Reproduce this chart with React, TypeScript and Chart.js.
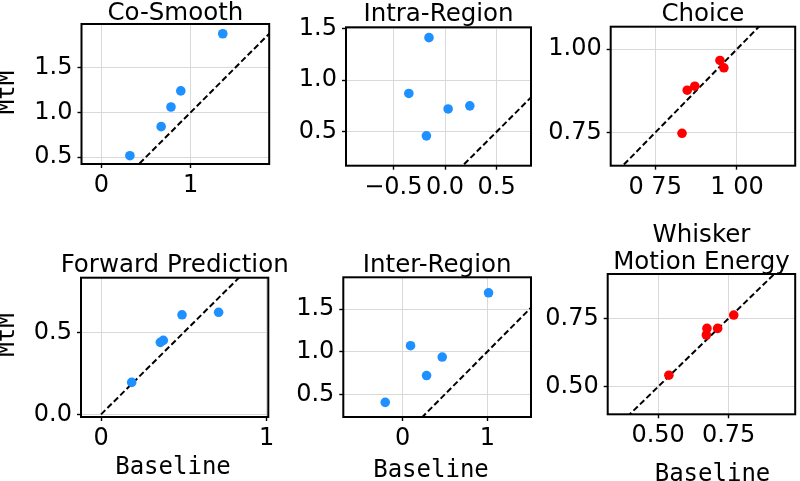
import { useEffect, useRef } from "react";
import { Chart, registerables } from "chart.js";

Chart.register(...registerables);

// ---------------- data ----------------
const coSmoothBaseline = [0.32, 0.67, 0.78, 0.89, 1.36];
const coSmoothMtM = [0.515, 0.84, 1.06, 1.24, 1.88];

const intraBaseline = [-0.155, -0.35, 0.03, 0.24, -0.18];
const intraMtM = [1.41, 0.87, 0.72, 0.75, 0.46];

const choiceBaseline = [0.948, 0.96, 0.871, 0.848, 0.832];
const choiceMtM = [0.966, 0.944, 0.889, 0.877, 0.748];

const forwardBaseline = [0.489, 0.71, 0.376, 0.358, 0.185];
const forwardMtM = [0.607, 0.622, 0.451, 0.439, 0.195];

const interBaseline = [1.015, 0.094, 0.468, 0.283, -0.205];
const interMtM = [1.69, 1.07, 0.937, 0.72, 0.406];

const whiskerBaseline = [0.768, 0.711, 0.673, 0.671, 0.538];
const whiskerMtM = [0.762, 0.713, 0.713, 0.689, 0.542];

// identity (y = x) reference line end points
const identityLine = [0, 2];

// tick values / labels
const ticks01 = [0, 1];
const ticks01Labels = ["0", "1"];
const ticksHalfStep = [0.5, 1.0, 1.5];
const ticksHalfStepLabels = ["0.5", "1.0", "1.5"];
const intraXTicks = [-0.5, 0.0, 0.5];
const intraXTickLabels = ["\u22120.5", "0.0", "0.5"];
const choiceXTicks = [0.75, 1.0];
const choiceXTickLabels = ["0 75", "1 00"];
const choiceYTicks = [0.75, 1.0];
const choiceYTickLabels = ["0.75", "1.00"];
const forwardYTicks = [0.0, 0.5];
const forwardYTickLabels = ["0.0", "0.5"];
const whiskerTicks = [0.5, 0.75];
const whiskerTickLabels = ["0.50", "0.75"];

const BLUE = "#1e90ff";
const RED = "#ff0000";

type Panel = {
  title: string[];
  titleBaselines: number[];
  box: [number, number, number, number]; // chart area l,t,r,b (page px)
  canvas: [number, number, number, number]; // canvas x0,y0,x1,y1 (page px)
  xRange: [number, number];
  yRange: [number, number];
  xTicks: number[];
  xTickLabels: string[];
  yTicks: number[];
  yTickLabels: string[];
  xs: number[];
  ys: number[];
  color: string;
  yLabel?: { text: string; x: number; y: number };
  xLabel?: { text: string; x: number; y: number };
};

const panels: Panel[] = [
  {
    title: ["Co-Smooth"],
    titleBaselines: [19.5],
    box: [81.5, 24, 269.2, 164],
    canvas: [-8, 0, 300, 200],
    xRange: [-0.222, 1.88],
    yRange: [0.422, 1.989],
    xTicks: ticks01,
    xTickLabels: ticks01Labels,
    yTicks: ticksHalfStep,
    yTickLabels: ticksHalfStepLabels,
    xs: coSmoothBaseline,
    ys: coSmoothMtM,
    color: BLUE,
    yLabel: { text: "MtM", x: 13.5, y: 92.5 },
  },
  {
    title: ["Intra-Region"],
    titleBaselines: [20.8],
    box: [346, 27.3, 531, 165.7],
    canvas: [270, 0, 545, 200],
    xRange: [-0.958, 0.832],
    yRange: [0.171, 1.51],
    xTicks: intraXTicks,
    xTickLabels: intraXTickLabels,
    yTicks: ticksHalfStep,
    yTickLabels: ticksHalfStepLabels,
    xs: intraBaseline,
    ys: intraMtM,
    color: BLUE,
  },
  {
    title: ["Choice"],
    titleBaselines: [20.8],
    box: [610.7, 26.7, 798.7, 165.7],
    canvas: [535, 0, 800, 200],
    xRange: [0.614, 1.178],
    yRange: [0.651, 1.067],
    xTicks: choiceXTicks,
    xTickLabels: choiceXTickLabels,
    yTicks: choiceYTicks,
    yTickLabels: choiceYTickLabels,
    xs: choiceBaseline,
    ys: choiceMtM,
    color: RED,
  },
  {
    title: ["Forward Prediction"],
    titleBaselines: [271.8],
    box: [81, 277.7, 268.3, 417],
    canvas: [-8, 215, 300, 481],
    xRange: [-0.121, 1.01],
    yRange: [-0.016, 0.833],
    xTicks: ticks01,
    xTickLabels: ticks01Labels,
    yTicks: forwardYTicks,
    yTickLabels: forwardYTickLabels,
    xs: forwardBaseline,
    ys: forwardMtM,
    color: BLUE,
    yLabel: { text: "MtM", x: 14, y: 335 },
    xLabel: { text: "Baseline", x: 173, y: 473.5 },
  },
  {
    title: ["Inter-Region"],
    titleBaselines: [272.4],
    box: [343.3, 277.3, 531, 417],
    canvas: [270, 215, 545, 481],
    xRange: [-0.7, 1.516],
    yRange: [0.234, 1.872],
    xTicks: ticks01,
    xTickLabels: ticks01Labels,
    yTicks: ticksHalfStep,
    yTickLabels: ticksHalfStepLabels,
    xs: interBaseline,
    ys: interMtM,
    color: BLUE,
    xLabel: { text: "Baseline", x: 431, y: 476.7 },
  },
  {
    title: ["Whisker", "Motion Energy"],
    titleBaselines: [241.7, 269.3],
    box: [607.7, 274, 795.7, 414.3],
    canvas: [535, 215, 800, 481],
    xRange: [0.321, 0.986],
    yRange: [0.399, 0.912],
    xTicks: whiskerTicks,
    xTickLabels: whiskerTickLabels,
    yTicks: whiskerTicks,
    yTickLabels: whiskerTickLabels,
    xs: whiskerBaseline,
    ys: whiskerMtM,
    color: RED,
    xLabel: { text: "Baseline", x: 712.5, y: 480.5 },
  },
];

const Y_AXIS_W = 70;
const X_AXIS_H = 40;
const TICK_FONT = { family: "'DejaVu Sans', sans-serif", size: 24 };
const GRID_COLOR = "#d9d9d9";

function PanelChart({ p }: { p: Panel }) {
  const ref = useRef<HTMLCanvasElement | null>(null);
  const [cx0, cy0, cx1, cy1] = p.canvas;
  const [bl, bt, br, bb] = p.box;

  useEffect(() => {
    if (!ref.current) return;
    const textPlugin = {
      id: "panelText",
      afterDraw(chart: any) {
        const ctx = chart.ctx as CanvasRenderingContext2D;
        const a = chart.chartArea;
        ctx.save();
        // frame
        ctx.strokeStyle = "#000";
        ctx.lineWidth = 2;
        ctx.strokeRect(a.left, a.top, a.right - a.left, a.bottom - a.top);
        // title
        ctx.fillStyle = "#000";
        ctx.textAlign = "center";
        ctx.textBaseline = "alphabetic";
        ctx.font = "24.5px 'DejaVu Sans', sans-serif";
        const cxm = (a.left + a.right) / 2;
        p.title.forEach((line, i) => {
          ctx.fillText(line, cxm, p.titleBaselines[i] - cy0);
        });
        ctx.font = "24px 'DejaVu Sans Mono', monospace";
        if (p.xLabel) {
          ctx.fillText(p.xLabel.text, p.xLabel.x - cx0, p.xLabel.y - cy0);
        }
        if (p.yLabel) {
          ctx.translate(p.yLabel.x - cx0, p.yLabel.y - cy0);
          ctx.rotate(-Math.PI / 2);
          ctx.fillText(p.yLabel.text, 0, 0);
        }
        ctx.restore();
      },
    };

    const chart = new Chart(ref.current, {
      type: "scatter",
      data: {
        datasets: [
          {
            type: "scatter",
            data: p.xs.map((x, i) => ({ x, y: p.ys[i] })),
            backgroundColor: p.color,
            borderWidth: 0,
            pointRadius: 4.8,
          } as any,
          {
            type: "line",
            data: identityLine.map((v) => ({ x: v, y: v })),
            borderColor: "#000",
            borderWidth: 2,
            borderDash: [6, 3],
            pointRadius: 0,
            fill: false,
            tension: 0,
          } as any,
        ],
      },
      options: {
        responsive: false,
        animation: false,
        devicePixelRatio: 1,
        events: [],
        layout: {
          padding: {
            left: bl - cx0 - Y_AXIS_W,
            top: bt - cy0,
            right: cx1 - br,
            bottom: cy1 - bb - X_AXIS_H,
          },
        },
        plugins: {
          legend: { display: false },
          tooltip: { enabled: false },
          title: { display: false },
        },
        scales: {
          x: {
            type: "linear",
            min: p.xRange[0],
            max: p.xRange[1],
            afterBuildTicks: (s: any) => {
              s.ticks = p.xTicks.map((v) => ({ value: v }));
            },
            afterFit: (s: any) => {
              s.height = X_AXIS_H;
              s.paddingLeft = 0;
              s.paddingRight = 0;
            },
            ticks: {
              autoSkip: false,
              maxRotation: 0,
              minRotation: 0,
              padding: 3.5,
              color: "#000",
              font: TICK_FONT,
              callback: (_v: any, i: number) => p.xTickLabels[i],
            },
            grid: {
              color: GRID_COLOR,
              lineWidth: 1,
              drawTicks: true,
              tickLength: 4,
              tickColor: "#000",
              tickWidth: 1.4,
            },
            border: { display: false },
          },
          y: {
            type: "linear",
            min: p.yRange[0],
            max: p.yRange[1],
            afterBuildTicks: (s: any) => {
              s.ticks = p.yTicks.map((v) => ({ value: v }));
            },
            afterFit: (s: any) => {
              s.width = Y_AXIS_W;
              s.paddingTop = 0;
              s.paddingBottom = 0;
            },
            ticks: {
              autoSkip: false,
              padding: 5,
              color: "#000",
              font: TICK_FONT,
              callback: (_v: any, i: number) => p.yTickLabels[i],
            },
            grid: {
              color: GRID_COLOR,
              lineWidth: 1,
              drawTicks: true,
              tickLength: 4,
              tickColor: "#000",
              tickWidth: 1.4,
            },
            border: { display: false },
          },
        },
      } as any,
      plugins: [textPlugin],
    });
    return () => chart.destroy();
  }, []);

  return (
    <canvas
      ref={ref}
      width={cx1 - cx0}
      height={cy1 - cy0}
      style={{
        position: "absolute",
        left: cx0,
        top: cy0,
        width: cx1 - cx0,
        height: cy1 - cy0,
      }}
    />
  );
}

export default function App() {
  return (
    <div
      style={{
        position: "absolute",
        left: 0,
        top: 0,
        width: 800,
        height: 481,
        overflow: "hidden",
        background: "#fff",
      }}
    >
      {panels.map((p, i) => (
        <PanelChart key={i} p={p} />
      ))}
    </div>
  );
}
